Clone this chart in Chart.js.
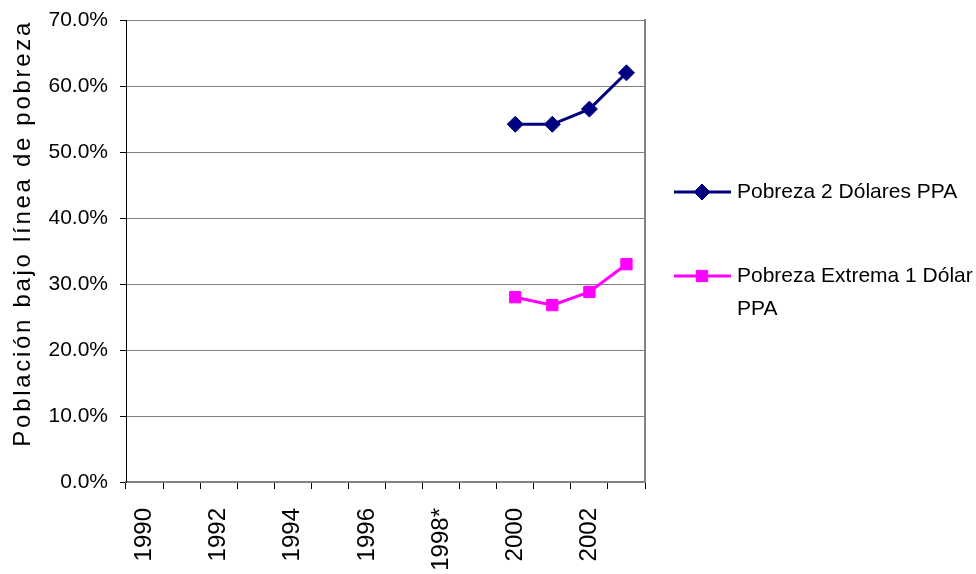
<!DOCTYPE html>
<html>
<head>
<meta charset="utf-8">
<script src="https://cdn.jsdelivr.net/npm/chart.js@4/dist/chart.umd.min.js"></script>
<style>
  html, body { margin: 0; padding: 0; background: #fff; }
  #wrap { width: 976px; height: 574px; }
</style>
</head>
<body>
<div id="wrap"><canvas id="povertyChart" width="976" height="574"></canvas></div>
<script>
// Data
const years = ['1990', '1991', '1992', '1993', '1994', '1995', '1996', '1997',
               '1998*', '1999', '2000', '2001', '2002', '2003'];
const pobreza2Dolares = [null, null, null, null, null, null, null, null, null, null,
                         54.2, 54.2, 56.5, 62.0];
const pobrezaExtrema = [null, null, null, null, null, null, null, null, null, null,
                        28.0, 26.8, 28.8, 33.0];
const yTicks = [0, 10, 20, 30, 40, 50, 60, 70];
const legendLines = [['Pobreza 2 Dólares PPA'], ['Pobreza Extrema 1 Dólar', 'PPA']];

const FONT = '"Liberation Sans", Arial, sans-serif';

// Wide letter spacing on the y axis title only (Excel look)
const titleSpacing = {
    id: 'titleSpacing',
    beforeDraw(chart) {
        const s = chart.scales.y;
        if (s && !s._spacedTitle) {
            const orig = s.drawTitle;
            s.drawTitle = function () {
                this.ctx.letterSpacing = '2.7px';
                orig.call(this);
                this.ctx.letterSpacing = '0px';
            };
            s._spacedTitle = true;
        }
    }
};

// Legend on the right, with the wrapped second label
const sideLegend = {
    id: 'sideLegend',
    afterDraw(chart) {
        const ctx = chart.ctx;
        const rowY = [192, 276];
        ctx.save();
        ctx.font = '21px ' + FONT;
        ctx.textBaseline = 'middle';
        chart.data.datasets.forEach((ds, i) => {
            const y = rowY[i];
            ctx.strokeStyle = ds.borderColor;
            ctx.lineWidth = ds.borderWidth;
            ctx.beginPath();
            ctx.moveTo(674, y);
            ctx.lineTo(731, y);
            ctx.stroke();

            ctx.fillStyle = ds.pointBackgroundColor;
            ctx.lineWidth = 1;
            ctx.beginPath();
            const r = ds.pointRadius;
            if (ds.pointStyle === 'rectRot') {
                ctx.moveTo(702 - r, y);
                ctx.lineTo(702, y - r);
                ctx.lineTo(702 + r, y);
                ctx.lineTo(702, y + r);
                ctx.closePath();
            } else {
                const s = r * Math.SQRT1_2;
                ctx.rect(702 - s, y - s, 2 * s, 2 * s);
            }
            ctx.fill();
            ctx.stroke();

            ctx.fillStyle = '#000';
            legendLines[i].forEach((t, k) => ctx.fillText(t, 737, y + k * 33));
        });
        ctx.restore();
    }
};

const ctx = document.getElementById('povertyChart').getContext('2d');
new Chart(ctx, {
    type: 'line',
    data: {
        labels: years,
        datasets: [{
            label: 'Pobreza 2 Dólares PPA',
            data: pobreza2Dolares,
            borderColor: '#000080',
            backgroundColor: '#000080',
            borderWidth: 3,
            pointStyle: 'rectRot',
            pointRadius: 8,
            pointBackgroundColor: '#000080',
            pointBorderColor: '#000080',
            pointBorderWidth: 1,
            tension: 0
        }, {
            label: 'Pobreza Extrema 1 Dólar PPA',
            data: pobrezaExtrema,
            borderColor: '#FF00FF',
            backgroundColor: '#FF00FF',
            borderWidth: 3,
            pointStyle: 'rect',
            pointRadius: 8,
            pointBackgroundColor: '#FF00FF',
            pointBorderColor: '#FF00FF',
            pointBorderWidth: 1,
            tension: 0
        }]
    },
    options: {
        responsive: false,
        animation: false,
        devicePixelRatio: 1,
        layout: { padding: { top: 0, right: 331, bottom: 0, left: 0 } },
        plugins: {
            legend: { display: false },
            tooltip: { enabled: false }
        },
        scales: {
            x: {
                offset: true,
                grid: {
                    offset: true,
                    drawOnChartArea: false,
                    tickLength: 7,
                    tickColor: '#000'
                },
                border: { color: '#808080', width: 2 },
                ticks: {
                    autoSkip: false,
                    minRotation: 90,
                    maxRotation: 90,
                    padding: 19,
                    color: '#000',
                    font: { family: FONT, size: 24 },
                    callback: (v, i) => (i % 2 === 0 ? years[i] : '')
                },
                afterFit: s => { s.height = 92; }
            },
            y: {
                min: 0,
                max: 70,
                afterBuildTicks: s => { s.ticks = yTicks.map(v => ({ value: v })); },
                grid: {
                    color: '#808080',
                    tickColor: '#000',
                    tickLength: 6,
                    lineWidth: 1
                },
                border: { color: '#000', width: 1 },
                ticks: {
                    padding: 12,
                    color: '#000',
                    font: { family: FONT, size: 21 },
                    callback: v => v.toFixed(1) + '%'
                },
                title: {
                    display: true,
                    text: 'Población bajo línea de pobreza',
                    align: 'end',
                    color: '#000',
                    font: { family: FONT, size: 24 },
                    padding: { top: 9, bottom: 0 }
                },
                afterFit: s => {
                    s.width = 126;
                    s.paddingTop = 20;
                    s.paddingBottom = 0;
                }
            },
            yRight: {
                position: 'right',
                min: 0,
                max: 70,
                grid: { drawOnChartArea: false, drawTicks: false },
                border: { color: '#808080', width: 2 },
                ticks: { display: false },
                afterFit: s => {
                    s.width = 0;
                    s.paddingTop = 0;
                    s.paddingBottom = 0;
                }
            }
        }
    },
    plugins: [titleSpacing, sideLegend]
});
</script>
</body>
</html>
